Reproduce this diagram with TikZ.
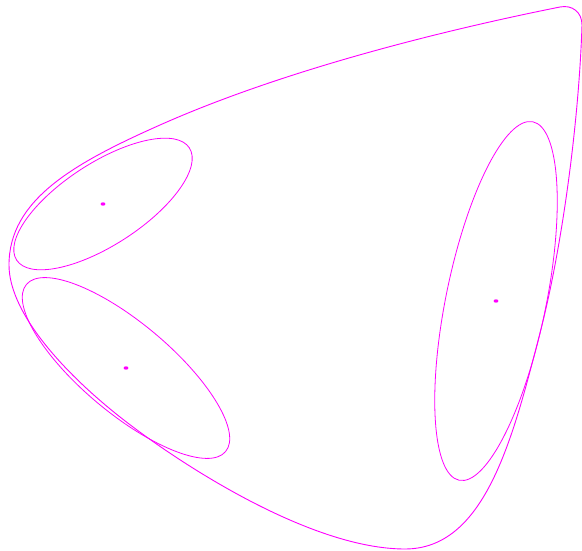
\documentclass[tikz,border=0pt]{standalone}
\usepackage{xcolor}
\usepackage{tikz}
\definecolor{blobpink}{RGB}{255, 0, 255}

\begin{document}
\begin{tikzpicture}[
        x=1pt, y=1pt,
        blob/.style={draw=blobpink, line width=0.8pt},
        hull/.style={draw=blobpink, line width=0.9pt},
        seed/.style={fill=blobpink}
    ]
        \useasboundingbox (0,0) rectangle (582,550);

        % Centres
        \coordinate (cA) at (103,346);
        \coordinate (cB) at (126,182);
        \coordinate (cC) at (496,249);

        % Clusters
        \draw[blob, rotate around={33:(cA)}] (cA) ellipse [x radius=103, y radius=41];
        \draw[blob, rotate around={-40:(cB)}] (cB) ellipse [x radius=130, y radius=45];
        \draw[blob, rotate around={78.4:(cC)}] (cC) ellipse [x radius=183, y radius=50];

        \fill[seed] (cA) ellipse [x radius=2.4, y radius=1.7];
        \fill[seed] (cB) ellipse [x radius=2.4, y radius=1.7];
        \fill[seed] (cC) ellipse [x radius=2.4, y radius=1.7];

        % Outline
        \coordinate (bot) at (405,1);
        \coordinate (lowL) at (133,123);
        \coordinate (left) at (9,285);
        \coordinate (upL) at (160,425);
        \coordinate (topR) at (560,543);
        \coordinate (edge) at (582,525);
        \coordinate (midR) at (540,217);
        \draw[hull] (bot) .. controls (315,1) and (193,78) .. (lowL)
            .. controls (69,171) and (9,235) .. (left)
            .. controls (9,350) and (73.2,386.4) .. (upL)
            .. controls (278.8,477.8) and (432.6,517.5) .. (topR)
            .. controls (572,545.4) and (582,538) .. (edge)
            .. controls (579,430) and (562.5,304) .. (midR)
            .. controls (512.5,110.3) and (485,1) .. (bot) -- cycle;
    \end{tikzpicture}
\end{document}
